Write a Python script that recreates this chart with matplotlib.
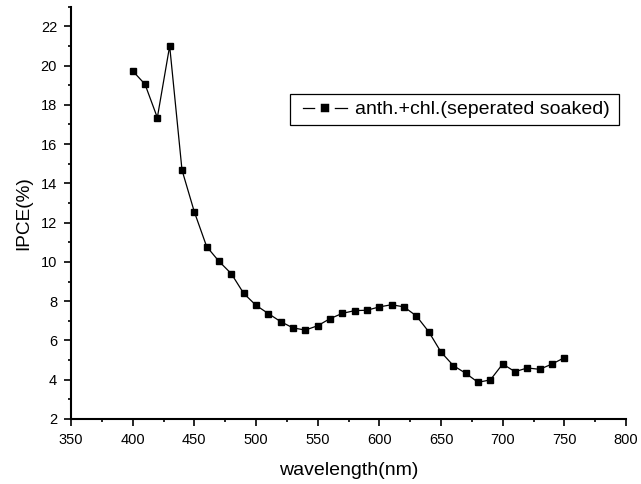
import numpy as np
import matplotlib
matplotlib.use("Agg")
import matplotlib.pyplot as plt
from matplotlib.ticker import MultipleLocator
from matplotlib.lines import Line2D
from matplotlib.legend_handler import HandlerLine2D

plt.rcParams['font.family'] = ['Liberation Sans', 'DejaVu Sans']

wavelength = np.arange(400, 751, 10)
ipce = [19.73, 19.05, 17.35, 21.0, 14.68, 12.55, 10.78, 10.03, 9.40, 8.40,
        7.79, 7.37, 6.96, 6.64, 6.53, 6.75, 7.11, 7.38, 7.52, 7.54,
        7.71, 7.82, 7.71, 7.25, 6.45, 5.41, 4.72, 4.33, 3.87, 3.99,
        4.80, 4.41, 4.60, 4.53, 4.80, 5.12]
label = "anth.+chl.(seperated soaked)"

W, H = 641, 484
fig = plt.figure(figsize=(W / 100, H / 100), dpi=100)
ax = fig.add_axes([71 / W, 1 - 419 / H, (626 - 71) / W, (419 - 6.7) / H])

ax.plot(wavelength, ipce, color="black", lw=0.9, marker="s",
        markersize=4.5, markerfacecolor="black", markeredgecolor="black")

ax.set_xlim(350, 800)
ax.set_ylim(2, 23)
ax.xaxis.set_major_locator(MultipleLocator(50))
ax.xaxis.set_minor_locator(MultipleLocator(25))
ax.yaxis.set_major_locator(MultipleLocator(2))
ax.yaxis.set_minor_locator(MultipleLocator(1))

for side in ("top", "right"):
    ax.spines[side].set_visible(False)
for side in ("left", "bottom"):
    ax.spines[side].set_linewidth(1.5)

ax.tick_params(which="major", direction="out", length=5, width=1.2,
               labelsize=10.5, pad=5)
ax.tick_params(which="minor", direction="out", length=2.5, width=1.2)

ax.set_xlabel("wavelength(nm)", fontsize=14, labelpad=11)
ax.set_ylabel("IPCE(%)", fontsize=13.7, labelpad=6)

# legend handle: line with a gap around the square, like Origin draws it
proxy = Line2D([], [], color="black", lw=0.9, marker="s", markersize=10,
               markerfacecolor="black", markeredgecolor="white",
               markeredgewidth=4.0)
fs = 14
px = fs * 100 / 72
bp = 0.35
leg = ax.legend([proxy], [label], loc="upper left",
                bbox_to_anchor=(290 / W, 1 - 124 / H, 329 / W, 30 / H),
                bbox_transform=fig.transFigure, mode="expand",
                borderaxespad=0, fontsize=fs, fancybox=False, framealpha=1,
                handlelength=(57 - bp * px) / px, handletextpad=8 / px,
                borderpad=bp,
                handler_map={Line2D: HandlerLine2D(xpad=(13 - bp * px) / px)})
leg.get_frame().set_edgecolor("black")
leg.get_frame().set_linewidth(0.9)

fig.savefig("out.png", dpi=100)
